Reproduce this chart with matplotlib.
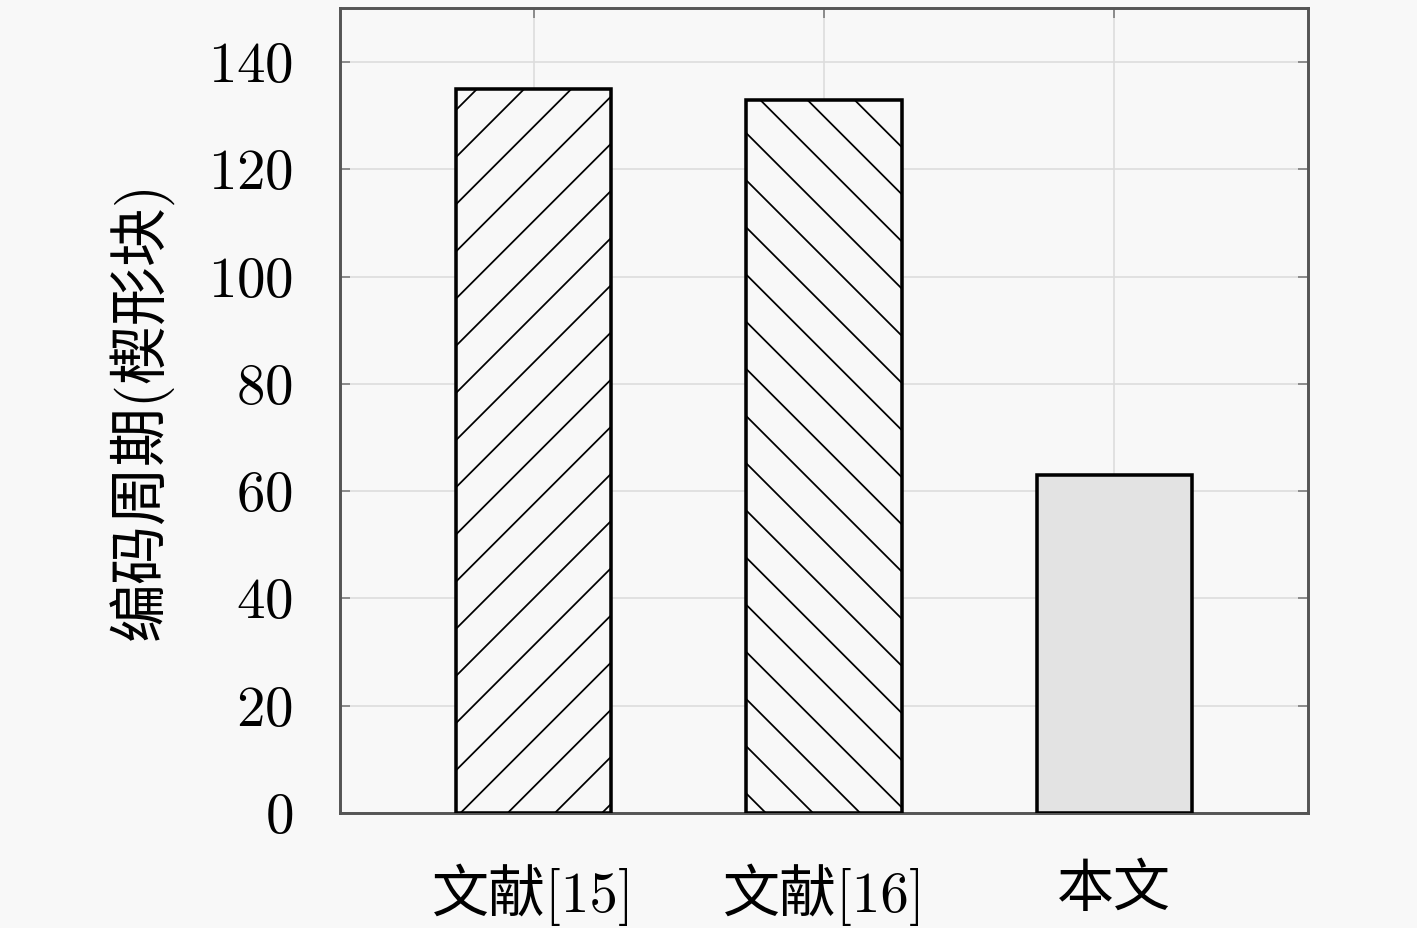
import matplotlib
matplotlib.use("Agg")
import matplotlib.pyplot as plt

categories = ["文献[15]", "文献[16]", "本文"]
values = [135, 133, 63]
hatches = ["//", "\\\\", ""]
fills = ["#f8f8f8", "#f8f8f8", "#e3e3e3"]
yticks = [0, 20, 40, 60, 80, 100, 120, 140]

plt.rcParams["font.family"] = ["cmr10", "Noto Sans CJK SC", "DejaVu Sans"]
plt.rcParams["axes.formatter.use_mathtext"] = True
plt.rcParams["hatch.linewidth"] = 0.45
plt.rcParams["hatch.color"] = "#333333"

dpi = 283
fig = plt.figure(figsize=(1417 / dpi, 928 / dpi), dpi=dpi, facecolor="#f8f8f8")
ax = fig.add_axes([0.240, 0.124, 0.683, 0.867])
ax.set_facecolor("#f8f8f8")

x = [1, 2, 3]
ax.bar(x, values, width=0.535, color=fills, edgecolor="black",
       linewidth=0.9, hatch=hatches, zorder=3)

ax.set_xlim(1 / 3, 3 + 2 / 3)
ax.set_ylim(0, 150)
ax.set_xticks(x)
ax.set_xticklabels(categories)
ax.set_yticks(yticks)
ax.grid(True, color="#dcdcdc", linewidth=0.4, zorder=0)
ax.set_axisbelow(True)

for s in ax.spines.values():
    s.set_color("#555555")
    s.set_linewidth(0.75)

ax.tick_params(axis="both", direction="in", length=2.5, width=0.4,
               color="#777777", top=True, right=True, labelsize=14.5)
ax.tick_params(axis="x", pad=13)
ax.tick_params(axis="y", pad=12)
ax.set_ylabel("编码周期(楔形块)", fontsize=15, labelpad=9)

fig.savefig("out.png", dpi=dpi, facecolor=fig.get_facecolor())
